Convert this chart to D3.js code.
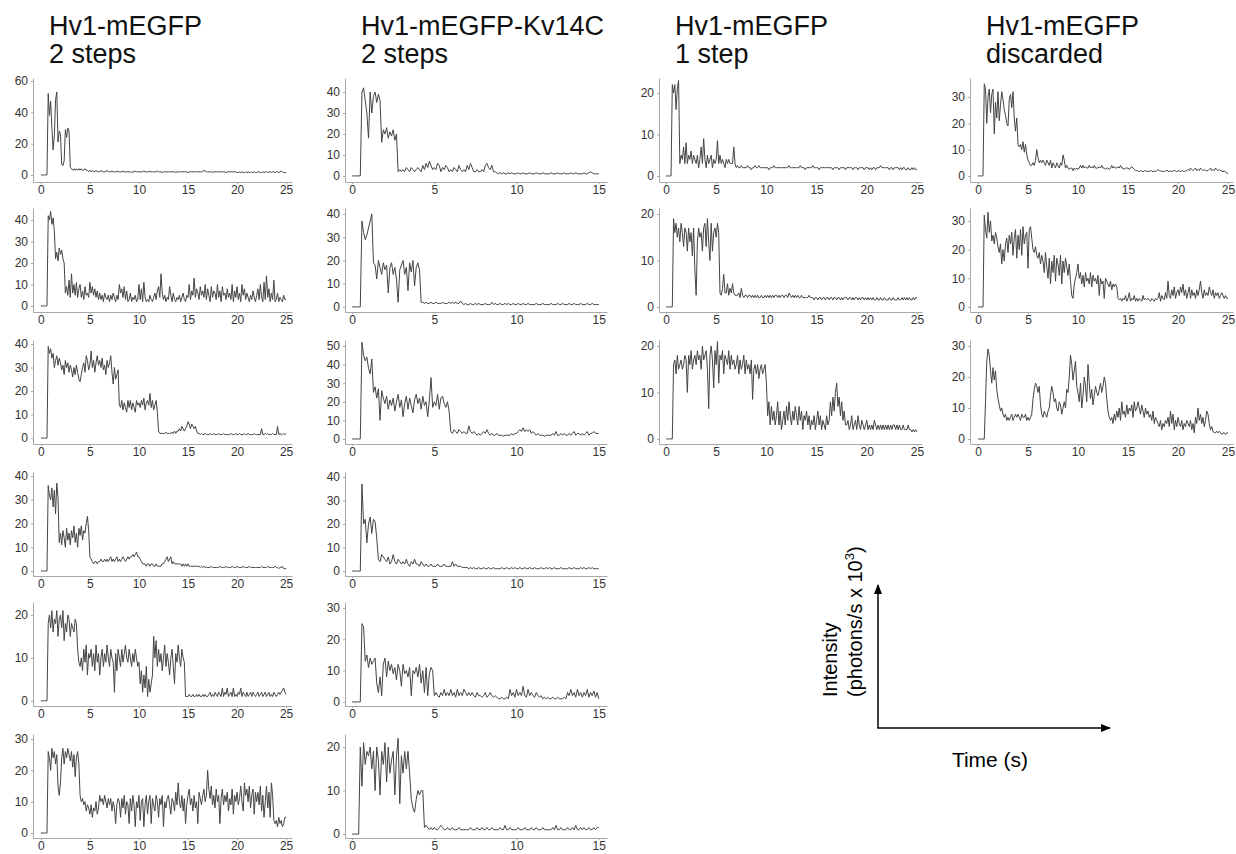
<!DOCTYPE html>
<html>
<head>
<meta charset="utf-8">
<script src="https://cdn.jsdelivr.net/npm/d3@7"></script>
<style>
    body { margin: 0; background: #fff; }
    svg { display: block; }
    text { font-family: "Liberation Sans", Arial, sans-serif; }
</style>
</head>
<body>
<div id="chart"></div>
<script>
// ---- data: intensity traces (photons/s x 10^3), sampled at a fixed step ----
const dtLong = 0.125;   // 25 s traces, 8 samples per second
const dtShort = 0.1;    // 15 s traces, 10 samples per second

const xTicksLong = [0, 5, 10, 15, 20, 25];
const xTicksShort = [0, 5, 10, 15];

const columnTitles = [
    ["Hv1-mEGFP", "2 steps"],
    ["Hv1-mEGFP-Kv14C", "2 steps"],
    ["Hv1-mEGFP", "1 step"],
    ["Hv1-mEGFP", "discarded"]
];

// Hv1-mEGFP, 2 steps
const hv1TwoSteps1 = [
    0,0,0,0,0,0,52,38,
    47,30,16,25,48,53,21,28,
    26,7,6,9,29,24,30,28,
    5,4,3,4,3,4,3,4,
    3,4,3,3,4,3,3,2,
    3,2,3,2,2,3,2,2,
    2,3,2,2,2,2,3,2,
    2,2,2.5,2,2,2,2.5,2,
    2,2,2,2.5,2,2,2,2,
    2,2,1.5,2,2,2.5,2,2,
    2,2,2,2,2.5,2,2,2,
    2,2.5,2,2,2,2,2,2.5,
    2,2,2,1.5,2,2,2,2,
    2,2,2,2,2,2,1.5,2,
    2,2,2,2,2,2,2,2,
    1.5,2,2,2,2,2,2,2,
    2,2,2,2,2,3,2.5,2,
    2,2,2,2,1.5,2,2,2,
    2,2,2,2,2,2,2,1.5,
    2,2,2,2,2,2,2,2,
    1.5,1.5,2,1.5,2,1.5,1.5,2,
    1.5,2,1.5,1.5,2,1.5,2,1.5,
    1.5,2,2,1.5,1.5,2,1.5,2,
    2,1.5,2,2,1.5,2,2,1.5,
    2,2,1.5,2,2.5,2,1.5,1.5,
    1.5
];
const hv1TwoSteps2 = [
    0,0,0,0,0,0,42,40,
    44,38,41,35,22,25,21,27,
    24,26,22,20,6,9,5,12,
    4,15,6,10,5,11,4,8,
    10,4,7,3,9,5,6,4,
    11,6,9,5,8,4,7,3,
    6,3,5,2,6,4,3,5,
    2,5,3,6,4,2,5,3,
    10,6,8,4,9,3,7,2,
    3,6,2,4,3,5,2,3,
    10,3,8,2,11,4,2,3,
    2,5,3,2,4,6,3,7,
    9,4,15,6,3,5,2,4,
    3,9,5,2,6,3,2,4,
    3,5,2,4,6,3,2,5,
    4,10,3,7,5,13,4,8,
    6,3,9,5,7,4,10,3,
    8,5,2,9,4,7,6,3,
    10,4,7,2,9,5,6,3,
    8,4,6,3,10,2,7,4,
    9,3,6,2,10,5,8,3,
    6,4,2,5,3,7,4,2,
    5,8,3,10,4,2,11,3,
    14,4,8,2,6,3,12,2,
    3,6,2,4,3,2,5,3,
    3
];
const hv1TwoSteps3 = [
    0,0,0,0,0,0,39,36,
    38,34,36,30,33,35,31,34,
    32,29,31,27,33,30,32,28,
    31,29,26,30,27,31,28,25,
    24,27,30,32,28,35,33,29,
    31,37,30,33,28,32,35,31,
    33,30,34,29,31,27,33,30,
    32,35,28,23,30,25,27,29,
    14,13,16,12,15,13,11,16,
    13,16,12,15,13,11,16,14,
    15,13,16,14,17,12,15,16,
    14,19,13,16,12,14,16,11,
    3,2,2,2,2,2,2.5,2,
    2,2,2,2.5,2,3,2,3,
    3,4,3,5,4,3,4,5,
    7,6,4,6,5,4,5,3,
    2,2,1.5,2,1.5,1.5,2,1.5,
    1.5,1.5,2,1.5,1.5,2,1.5,1.5,
    1.5,2,1.5,1.5,1.5,2,1.5,1.5,
    1.5,1.5,1.5,2,1.5,1.5,1.5,2,
    1.5,1.5,2,1.5,1.5,1.5,2,1.5,
    1.5,2,1.5,1.5,1.5,1.5,2,1.5,
    1.5,1.5,1.5,1.5,4,1.5,1.5,2,
    1.5,2,1.5,1.5,1.5,2,1.5,1.5,
    1.5,5,1.5,2,1.5,1.5,2,1.5,
    2
];
const hv1TwoSteps4 = [
    0,0,0,0,0,0,36,32,
    30,35,27,34,24,37,31,12,
    16,11,17,14,10,18,13,16,
    11,17,14,19,12,16,10,18,
    15,19,13,17,16,20,23,17,
    6,5,4,3,4,4,3,4,
    4,5,4,4,5,4,5,4,
    5,6,4,5,4,5,6,4,
    5,4,5,6,5,4,5,6,
    5,6,6,7,6,7,8,6,
    6,5,4,3,3,3,2,3,
    3,2,3,3,2,2,3,2,
    2,2,2,3,3,4,5,6,
    4,5,6,3,4,3,3,3,
    3,3,3,2,3,2,3,2,
    3,2,2,2,2,2,2,2,
    2,2,1.5,2,1.5,2,1.5,1.5,
    1.5,1.5,1.5,2,1.5,1.5,1.5,1.5,
    1.5,1.5,2,1.5,1.5,1.5,1.5,2,
    1.5,1.5,1.5,1.5,2,1.5,1.5,1.5,
    2,1.5,1.5,1.5,1.5,2,1.5,1.5,
    1.5,1.5,2,1.5,1.5,1.5,1.5,1.5,
    1.5,1.5,1.5,1.5,2,1.5,1.5,1.5,
    1.5,2,1.5,1.5,1.5,1.5,1.5,2,
    1.5,1.5,1,1.5,1.5,2,1,1,
    1
];
const hv1TwoSteps5 = [
    0,0,0,0,0,0,18,20,
    17,21,16,19,18,21,15,19,
    20,17,21,14,18,16,20,19,
    15,18,17,16,19,18,12,9,
    8,10,7,12,9,13,6,11,
    10,12,8,11,7,13,9,11,
    6,10,12,8,11,9,13,10,
    8,12,10,9,2,11,7,12,
    10,8,12,9,11,13,10,9,
    12,10,8,11,9,12,10,8,
    9,4,7,2,6,3,8,1,
    5,2,4,6,15,10,14,8,
    12,9,11,7,10,13,8,11,
    9,6,10,12,8,4,11,9,
    13,10,8,12,10,9,1,1,
    1,1.5,1,1,1.5,1,1,1.5,
    1,1.5,1,1,1.5,1,1.5,1,
    1,1.5,2,1,1.5,1,2,1.5,
    1,2,1.5,1,3,1,2,1.5,
    3,1,1.5,2,1,3,1,1.5,
    1,2,1.5,3,1,2,1.5,1,
    2,1,1.5,2,1,2,1.5,1,
    1.5,2,1,1.5,2,1,1.5,2,
    1,1.5,2,1,1.5,1,2,1.5,
    1,1.5,2,1.5,2,2.5,3,2,
    1.5
];
const hv1TwoSteps6 = [
    0,0,0,0,0,0,26,24,
    20,27,24,26,22,25,15,12,
    16,24,27,22,26,24,27,25,
    23,26,21,25,18,24,26,22,
    12,10,11,9,10,7,9,8,
    6,9,5,8,7,10,6,8,
    12,10,11,9,12,10,8,11,
    9,11,7,10,8,3,9,11,
    10,5,11,8,12,6,10,9,
    3,11,7,12,9,2,10,8,
    12,4,10,11,2,9,12,6,
    10,12,3,11,9,7,12,10,
    5,11,9,12,2,10,8,11,
    12,9,6,11,10,7,13,9,
    16,10,8,12,7,11,3,9,
    12,14,9,11,7,12,8,10,
    3,13,11,9,12,14,10,12,
    20,14,11,15,9,12,8,14,
    10,12,3,11,14,9,12,10,
    13,7,11,9,14,6,12,10,
    13,9,11,15,10,7,16,12,
    14,10,15,8,12,14,6,13,
    10,13,9,15,7,12,5,10,
    15,8,13,5,16,12,4,3,
    4,2,5,3,4,2,3,5,
    5
];

// Hv1-mEGFP-Kv14C, 2 steps
const kv14cTwoSteps1 = [
    0,0,0,0,0,0,40,42,36,30,
    18,40,30,38,40,35,39,36,16,22,
    20,23,18,21,19,22,17,20,2,3,
    2,3,2,4,3,2,4,3,2,3,
    4,3,2,5,3,6,4,7,5,3,
    4,3,6,5,2,4,3,5,4,2,
    3,2,4,3,2,5,3,2,3,2,
    5,3,6,4,2,2,3,2,2,3,
    2,5,6,4,3,5,2,2,1.5,1,
    1.5,1,1.5,1,1,1.5,1,1.5,1,1,
    1,1.5,1,1,1.5,1,1,1,1.5,1,
    1,1,1.5,1,1,1,1.5,1,1,1,
    1,1.5,1,1,1,1.5,1,1,1,1.5,
    1,1,1,1.5,1,1,1.5,1,1,1,
    1,1.5,1,1,1.5,2,1.5,1,1,1,
    1
];
const kv14cTwoSteps2 = [
    0,0,0,0,0,0,37,32,29,31,
    34,37,40,19,18,12,20,17,14,19,
    16,18,6,17,19,14,17,12,2,16,
    18,20,14,17,7,19,15,20,9,17,
    19,16,2,2,1.5,2,1.5,1.5,2,1.5,
    1.5,2,1.5,1.5,1.5,2,1.5,1.5,1.5,2,
    1.5,2,1.5,2,1.5,1.5,2.5,1.5,1,1.5,
    1,1,1.5,1,1,1.5,1,1.5,1,1,
    1,1.5,1,1,1,2,1,1.5,1,1,
    1.5,1,1,1.5,1,1.5,1,1,1.5,1,
    1,1.5,1,1,1.5,1,1,1.5,1,1,
    1,1,1.5,1,1,1,1.5,1,1,1,
    1,1.5,1,1,1,1.5,1,1,1.5,1,
    1,1,1.5,1,1,1.5,1,1,1,1.5,
    1,1,1,1.5,1,1,1.5,1,1,1,
    1
];
const kv14cTwoSteps3 = [
    0,0,0,0,0,0,52,45,42,44,
    38,35,43,25,28,22,27,10,26,22,
    19,23,16,21,18,22,15,20,24,17,
    21,12,19,23,16,22,18,14,21,24,
    19,22,16,23,18,20,12,21,33,17,
    20,18,24,16,22,23,19,17,20,15,
    4,3,5,4,3,5,4,3,4,3,
    3,7,4,3,4,3,2,3,2,3,
    4,3,5,3,2,3,2,2,3,2,
    2,2,1.5,2,2,2,2,3,2,3,
    3,4,5,4,6,4,5,4,5,3,
    4,3,2,3,2,2,2,1.5,2,2,
    2,2,3,2,4,2,2,3,2,3,
    2,2,3,2,3,4,2,3,3,2,
    3,2,3,4,2,3,3,4,3,3,
    3
];
const kv14cTwoSteps4 = [
    0,0,0,0,0,0,37,20,22,12,
    20,23,16,22,21,14,5,4,7,6,
    5,4,6,3,4,7,4,3,5,4,
    3,4,3,5,3,2,4,3,5,3,
    3,2,4,3,2,3,2,2,3,2,
    2,2,3,2,2,2,3,2,2,2,
    2,4,2,3,2,2,2,1.5,1.5,1.5,
    1.5,1,1.5,1,1.5,1,1,1.5,1,1,
    1.5,1,1,1.5,1,1,1.5,1,1,1,
    1,1.5,1,1,1.5,1,1,1.5,1,1.5,
    1,1,1.5,1,1,1.5,1,1,1.5,1,
    1,1.5,1,1,1,1.5,1,1,1.5,1,
    1.5,1,1,1.5,1,1,1,1.5,1,1,
    1,1,1.5,1,1,1.5,1,1,1,1.5,
    1,1.5,1,1,1.5,1,1.5,1,1,1,
    1
];
const kv14cTwoSteps5 = [
    0,0,0,0,0,0,25,24,13,15,
    11,14,12,13,14,6,3,8,2,12,
    14,8,13,10,12,9,11,7,12,10,
    5,12,9,10,8,11,2,10,9,11,
    8,12,6,10,3,11,2,9,11,10,
    2,3,2,1.5,3,2,4,2,3,2,
    4,2,3,1.5,4,2,3,2,4,3,
    2,3,2,3,2,1.5,3,2,2,1.5,
    2,3,1.5,2,3,2,1.5,2,1.5,1,
    1,1.5,1,1,1.5,1,4,2,3,1.5,
    4,2,3,2,5,2,1.5,4,2,3,
    2,1.5,3,2,1.5,2,1,1.5,1,1.5,
    1,1,1.5,1,1,1.5,1,1,1,1.5,
    1,3,2,4,2,3,1.5,4,2,3,
    1.5,3,2,4,1.5,3,2,3.5,1.5,3,
    1
];
const kv14cTwoSteps6 = [
    0,0,0,0,0,20,11,21,16,19,
    18,20,15,19,10,20,17,9,19,16,
    21,12,20,14,17,19,9,18,22,7,
    18,14,19,15,19,14,8,6,5,8,
    10,9,10,10,1.5,2,1.5,1,1.5,1,
    1.5,1,1,1.5,2,1.5,1,1,1.5,1,
    1,1.5,1,1,1,1.5,1,1,1,1,
    1,1,1.5,1,1,1,1.5,1,1,1.5,
    1,1,1.5,1,1,1.5,1,1,1,1,
    1.5,1,1,2,1,1,1.5,1,1,1,
    1,1.5,1,1,1,1.5,1,1,1,1.5,
    1,1,1.5,1,1,1,1.5,1,1,1,
    1,1,1.5,1,2,1,1,1.5,1,1,
    1,1.5,1,1,1.5,1,2,1,1,1.5,
    1,1.5,1,1,1.5,1,1,1.5,1,1.5,
    1.5
];

// Hv1-mEGFP, 1 step
const hv1OneStep1 = [
    0,0,0,0,0,22,20,22,
    16,21,23,3,5,4,7,3,
    8,3,5,4,6,3,5,4,
    3,5,2,4,7,3,9,4,
    2,5,3,4,5,2,4,3,
    4,8.5,3,5,3,4,3,2,
    4,3,4,3,3,3,7,3,
    2,2.5,2,2,2.5,2,2,2,
    2,2.5,2,2,1.5,2,2,2.5,
    2,2,2.5,2,2,2,2,2,
    2,2,1.5,2,2,2,2.5,2,
    2,2,2,2,2,2,2,2,
    2,2,2.5,2,2,2,2,2,
    2,2,2,2.5,2,2,2,1.5,
    2,2,2,2,2,2.5,2,2,
    2,2,1.5,2,2,2,2,2,
    2,2,2,2,2,1.5,2,2,
    2,2,1.5,2,2,2,2,1.5,
    2,2,2,2,2,1.5,2,2,
    2,1.5,2,2,2,2,1.5,2,
    2,2,1.5,2,1.5,2,2,1.5,
    2,2,2,2.5,2,2,2,2,
    2,2,1.5,2,2,1.5,2,2,
    2,2,1.5,2,1.5,2,2,1.5,
    1.5,2,1.5,1.5,2,1.5,2,1.5,
    1.5
];
const hv1OneStep2 = [
    0,0,0,0,0,0,19,16,
    18,15,17,14,18,16,13,17,
    16,12,17,14,16,11,17,8,
    2.5,14,17,15,16,12,17,18,
    13,19,14,10,18,12,16,17,
    15,18,16,3,2.5,4,7,3,
    3,5,2.5,4,3,5,3,2.5,
    2.5,2.5,3,2,4,2.5,2,2.5,
    2.5,2,2.5,2.5,2,2.5,2,2.5,
    2,2.5,2,2,2.5,2,2,2.5,
    2,2.5,2,2.5,2,2.5,2,2.5,
    2.5,2,2.5,2,2.5,2.5,2,2.5,
    2.5,2,3,2.5,2,2.5,2,2.5,
    2,2.5,2,2,2.5,2,2,2,
    2,2,2.5,2,2,2,1.5,2,
    2,1.5,2,2,1.5,2,2,1.5,
    2,2,1.5,2,2,1.5,2,2,
    1.5,2,2,1.5,2,1.5,2,2,
    2,1.5,2,2,1.5,2,1.5,2,
    2,1.5,2,1.5,2,2,1.5,2,
    1.5,2,1.5,2,1.5,2,1.5,1.5,
    2,1.5,1.5,2,1.5,1.5,2,1.5,
    1.5,1.5,2,1.5,1.5,2,1.5,1.5,
    1.5,2,1.5,1.5,2,1.5,2,1.5,
    2,1.5,2,1.5,1.5,2,1.5,2,
    2
];
const hv1OneStep3 = [
    0,0,0,0,0,0,16,17,
    14,18,15,16,17,15,16,18,
    17,10,18,16,19,15,17,18,
    16,19,17,18,15,20,17,18,
    19,15,6.5,18,20,17,11,19,
    16,21,12,18,17,19,14,18,
    17,16,19,15,18,16,17,15,
    16,18,14,17,15,16,18,14,
    17,15,16,14,17,8.5,15,16,
    14,16,13,15,16,14,15,16,
    12,5,8,3,7,4,6,3,
    5,8,3,6,2,4,6,3,
    7,4,8,5,3,6,4,7,
    5,3,7,4,6,2,5,4,
    6,3,5,2,4,3,5,2,
    4,6,3,5,2,4,3,2,
    5,3,4,8,5,9,6,10,
    12,7,9,5,8,4,6,3,
    3,4,2,3,5,2,3,4,
    2,5,3,2,4,3,2,3,
    4,2,3,2,3,2,4,3,
    2,3,2,3,2,3,2,3,
    2,3,2,3,2,3,3,2,
    3,2,3,2,2,3,2,2,
    2,3,2,2,1.5,2,1.5,2,
    1.5
];

// Hv1-mEGFP, discarded
const hv1Discarded1 = [
    0,0,0,0,0,35,33,20,
    30,33,24,31,33,16,28,22,
    32,21,27,32,29,25,23,20,
    19,29,31,26,32,22,17,22,
    12,11,12,10,13,9,12,8,
    6,5,4,4,5,4,6,10,
    7,5,6,5,6,5,4,6,
    5,4,6,3,5,4,3,5,
    4,3,5,4,8,6,3,4,
    3,2.5,3,3,2,3,2.5,3,
    2.5,3,4,3,4,3,3.5,3,
    3,4,3,3.5,3,4,3,3,
    3,3.5,3,4,3,3,2.5,3,
    3,2.5,3,4,3,3.5,3,3,
    3.5,3,4,3,3,2.5,3,3,
    3,2.5,3,3.5,3,2.5,2,2,
    2,1.5,2,2,1.5,2,2,1.5,
    2,1.5,2,2,1.5,2,1.5,2,
    2.5,2,2,1.5,2,1.5,2,2,
    2,1.5,2,1.5,2,2,2,1.5,
    2,2,1.5,2,2,1.5,2,2,
    2.5,2,3,2.5,2,2.5,3,2,
    2.5,2,3,2.5,2,2.5,2,2,
    2,2.5,3,2,2.5,2,3,2.5,
    2,2.5,2,2,1.5,2,1.5,1,
    1
];
const hv1Discarded2 = [
    0,0,0,0,0,32,27,24,
    33,26,30,23,25,22,26,24,
    21,19,22,15,20,16,22,24,
    19,25,22,26,18,24,27,17,
    25,20,27,18,28,22,25,26,
    13.5,27,28,24,20,19,21,18,
    17,19,15,18,16,12,19,14,
    10,17,8,16,12,18,9,17,
    15,11,18,8,16,12,17,14,
    11,15,9,4,3,8,10,12,
    15,10,12,8,11,7,12,9,
    10,8,12,7,11,9,10,8,
    11,4,10,8,9,3,10,9,
    8,7,9,6,8,7,8,7,
    3,2.5,3,2,3,2.5,4,2,
    3,5,2,3,2.5,4,2,3,
    2,3,2.5,2,4,2.5,3,2.5,
    3,2.5,2,3,2.5,2,3,2.5,
    3,5,2,4,3,2.5,5,3,
    9,4,3,6,4,7,3,5,
    6,4,7,5,8,4,6,3,
    5,7,3,6,4,5,3,6,
    4,6,9,5,3,6,4,5,
    4,7,5,4,6,3,5,4,
    5,3,4,5,4,3,4,3,
    3
];
const hv1Discarded3 = [
    0,0,0,0,0,0,12,25,
    29,27,22,18,23,19,22,16,
    13,11,9,10,8,7,8,6,
    7,6,7,8,6,7,8,7,
    8,7,6,8,7,7,8,6,
    7,6,7,8,13,16,18,17,
    15,17,11,8,7,9,8,7,
    9,10,14,17,15,12,13,10,
    9,12,11,8,10,12,10,16,
    15,20,27,24,19,22,25,17,
    15,12,18,10,14,20,17,12,
    24,18,13,16,11,14,17,15,
    14,16,18,15,17,20,18,13,
    9,7,6,7,5,8,6,9,
    7,10,6,12,8,9,7,11,
    8,10,9,11,7,12,9,10,
    12,10,8,11,9,7,10,8,
    9,7,8,6,9,5,7,6,
    5,4,6,3,5,4,6,5,
    7,4,9,5,8,3,6,4,
    7,5,4,6,3,5,4,6,
    5,4,6,3,5,2,7,5,
    10,6,8,5,7,4,6,9,
    8,5,3,4,2.5,2,2,2.5,
    2,2.5,2,1.5,2,2,1.5,2,
    2
];

// ---- layout ----
const width = 1236, height = 854;

const svg = d3.select("#chart").append("svg")
    .attr("width", width)
    .attr("height", height);

// one entry per column of panels: left edge of the axes and the x extent
const columns = [
    { left: 33,  width: 259, xDomain: [-0.8, 25.6], ticks: xTicksLong,  dt: dtLong },
    { left: 345, width: 262, xDomain: [-0.43, 15.5], ticks: xTicksShort, dt: dtShort },
    { left: 659, width: 263, xDomain: [-0.7, 25.5], ticks: xTicksLong,  dt: dtLong },
    { left: 970, width: 263, xDomain: [-0.8, 25.5], ticks: xTicksLong,  dt: dtLong }
];
const rowTops = [78, 208, 340, 472, 602, 734];
const rowHeight = 104;

const panels = [
    { col: 0, row: 0, data: hv1TwoSteps1, yDomain: [-4.5, 61.9], yTicks: [0, 20, 40, 60] },
    { col: 0, row: 1, data: hv1TwoSteps2, yDomain: [-2.8, 45.6], yTicks: [0, 10, 20, 30, 40] },
    { col: 0, row: 2, data: hv1TwoSteps3, yDomain: [-2.5, 41.7], yTicks: [0, 10, 20, 30, 40] },
    { col: 0, row: 3, data: hv1TwoSteps4, yDomain: [-2.1, 41.7], yTicks: [0, 10, 20, 30, 40] },
    { col: 0, row: 4, data: hv1TwoSteps5, yDomain: [-1.2, 23.0], yTicks: [0, 10, 20] },
    { col: 0, row: 5, data: hv1TwoSteps6, yDomain: [-1.6, 31.6], yTicks: [0, 10, 20, 30] },
    { col: 1, row: 0, data: kv14cTwoSteps1, yDomain: [-2.9, 46.7], yTicks: [0, 10, 20, 30, 40] },
    { col: 1, row: 1, data: kv14cTwoSteps2, yDomain: [-2.2, 42.6], yTicks: [0, 10, 20, 30, 40] },
    { col: 1, row: 2, data: kv14cTwoSteps3, yDomain: [-2.7, 53.2], yTicks: [0, 10, 20, 30, 40, 50] },
    { col: 1, row: 3, data: kv14cTwoSteps4, yDomain: [-2.1, 42.1], yTicks: [0, 10, 20, 30, 40] },
    { col: 1, row: 4, data: kv14cTwoSteps5, yDomain: [-1.3, 31.9], yTicks: [0, 10, 20, 30] },
    { col: 1, row: 5, data: kv14cTwoSteps6, yDomain: [-0.9, 23.0], yTicks: [0, 10, 20] },
    { col: 2, row: 0, data: hv1OneStep1, yDomain: [-1.45, 23.6], yTicks: [0, 10, 20] },
    { col: 2, row: 1, data: hv1OneStep2, yDomain: [-1.1, 21.3], yTicks: [0, 10, 20] },
    { col: 2, row: 2, data: hv1OneStep3, yDomain: [-1.1, 21.3], yTicks: [0, 10, 20] },
    { col: 3, row: 0, data: hv1Discarded1, yDomain: [-2.3, 37.2], yTicks: [0, 10, 20, 30] },
    { col: 3, row: 1, data: hv1Discarded2, yDomain: [-1.75, 34.5], yTicks: [0, 10, 20, 30] },
    { col: 3, row: 2, data: hv1Discarded3, yDomain: [-1.6, 31.9], yTicks: [0, 10, 20, 30] }
];

// Column titles (two lines each)
columns.forEach((c, i) => {
    const t = svg.append("text")
        .attr("x", c.left + 16)
        .attr("y", 35)
        .style("font-size", "27px")
        .attr("fill", "#111");
    t.append("tspan").attr("x", c.left + 16).text(columnTitles[i][0]);
    t.append("tspan").attr("x", c.left + 16).attr("dy", 28).text(columnTitles[i][1]);
});

// Draw every panel
panels.forEach(p => {
    const c = columns[p.col];
    const top = rowTops[p.row];

    const g = svg.append("g")
        .attr("transform", `translate(${c.left},${top})`);

    const x = d3.scaleLinear().domain(c.xDomain).range([0, c.width]);
    const y = d3.scaleLinear().domain(p.yDomain).range([rowHeight, 0]);

    // x axis
    const xAxis = g.append("g")
        .attr("transform", `translate(0,${rowHeight})`)
        .call(d3.axisBottom(x).tickValues(c.ticks).tickSizeInner(2).tickSizeOuter(0).tickPadding(1));

    // y axis
    const yAxis = g.append("g")
        .call(d3.axisLeft(y).tickValues(p.yTicks).tickSizeInner(2).tickSizeOuter(0).tickPadding(3));

    [xAxis, yAxis].forEach(a => {
        a.select(".domain").attr("stroke", "#a8a8a8").attr("stroke-width", 1);
        a.selectAll(".tick line").attr("stroke", "#a8a8a8");
        a.selectAll(".tick text")
            .attr("fill", "#333")
            .style("font-size", "12px")
            .style("font-family", "'Liberation Sans', Arial, sans-serif");
    });

    // trace
    const line = d3.line()
        .x((d, i) => x(i * c.dt))
        .y(d => y(d));

    g.append("path")
        .datum(p.data)
        .attr("fill", "none")
        .attr("stroke", "#444")
        .attr("stroke-width", 1)
        .attr("stroke-linejoin", "round")
        .attr("d", line);
});

// ---- scale legend: arrows for intensity and time ----
const defs = svg.append("defs");
defs.append("marker")
    .attr("id", "arrow")
    .attr("viewBox", "0 0 10 10")
    .attr("refX", 9)
    .attr("refY", 5)
    .attr("markerWidth", 7)
    .attr("markerHeight", 7)
    .attr("orient", "auto")
    .append("path")
    .attr("d", "M0,1 L10,5 L0,9 Z")
    .attr("fill", "#000");

const origin = { x: 878, y: 728 };

svg.append("line")
    .attr("x1", origin.x).attr("y1", origin.y)
    .attr("x2", origin.x).attr("y2", 585)
    .attr("stroke", "#000").attr("stroke-width", 1.5)
    .attr("marker-end", "url(#arrow)");

svg.append("line")
    .attr("x1", origin.x - 0.75).attr("y1", origin.y)
    .attr("x2", 1110).attr("y2", origin.y)
    .attr("stroke", "#000").attr("stroke-width", 1.5)
    .attr("marker-end", "url(#arrow)");

svg.append("text")
    .attr("transform", "translate(837,697) rotate(-90)")
    .style("font-size", "20px")
    .text("Intensity");

const unitLabel = svg.append("text")
    .attr("transform", "translate(862,697) rotate(-90)")
    .style("font-size", "20px");
unitLabel.append("tspan").text("(photons/s x 10");
unitLabel.append("tspan").attr("dy", -8).style("font-size", "13px").text("3");
unitLabel.append("tspan").attr("dy", 8).text(")");

svg.append("text")
    .attr("x", 990)
    .attr("y", 767)
    .attr("text-anchor", "middle")
    .style("font-size", "21px")
    .text("Time (s)");
</script>
</body>
</html>
